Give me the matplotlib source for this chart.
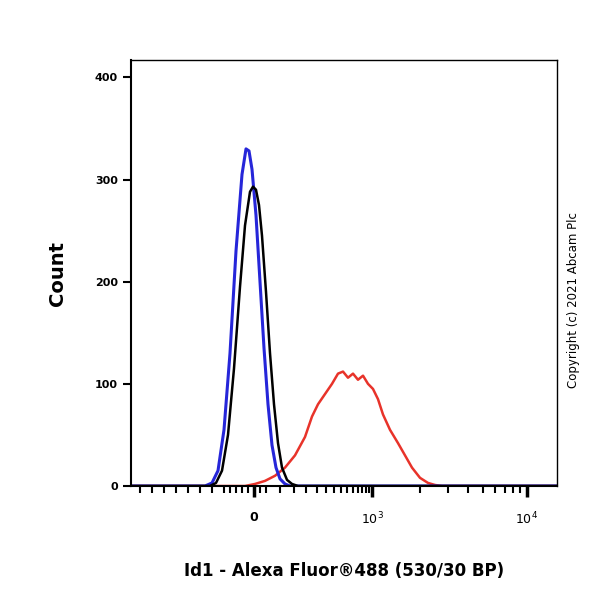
import matplotlib
matplotlib.use("Agg")
import matplotlib.pyplot as plt

# channel positions (display channel units) and counts
blue_x = [131, 205, 212, 218, 224, 230, 236, 242, 246, 249, 252, 256, 260, 264, 268, 272, 276, 280, 285, 290, 557]
blue_y = [0, 0, 3, 15, 55, 130, 230, 305, 330, 328, 310, 265, 200, 135, 80, 40, 18, 7, 2, 0, 0]
black_x = [131, 210, 216, 222, 228, 234, 240, 245, 250, 253, 256, 259, 262, 266, 270, 274, 278, 282, 287, 292, 298, 557]
black_y = [0, 0, 3, 15, 50, 115, 195, 255, 288, 293, 290, 275, 245, 190, 130, 80, 42, 18, 6, 2, 0, 0]
red_x = [131, 245, 255, 265, 275, 285, 295, 305, 312, 318, 325, 332, 338, 343, 348, 353, 358, 363, 368, 373, 378, 383, 390, 398, 405, 412, 420, 428, 435, 442, 557]
red_y = [0, 0, 2, 5, 10, 18, 30, 48, 68, 80, 90, 100, 110, 112, 106, 110, 104, 108, 100, 95, 85, 70, 55, 42, 30, 18, 8, 3, 1, 0, 0]

major_pos = [254, 372, 527]
major_lbl = ["0", "$10^3$", "$10^4$"]
minor_pos = [140, 152, 164, 176, 188, 200, 212, 224, 230, 236, 242, 248, 260, 266, 280, 294, 306, 317, 326, 334, 341, 347, 353, 358, 362, 366, 369,
             420, 448, 468, 483, 495, 505, 513, 520]

fig = plt.figure(figsize=(6, 6), dpi=100)
ax = fig.add_axes([131/600, (600-486)/600, 426/600, 426/600])
ax.plot(red_x, red_y, color="#e8332a", lw=1.8)
ax.plot(blue_x, blue_y, color="#2626d9", lw=2.2)
ax.plot(black_x, black_y, color="black", lw=1.8)
ax.set_xlim(131, 557)
ax.set_ylim(0, 417)
ax.set_xticks(major_pos)
ax.set_xticklabels(major_lbl, fontsize=9, fontweight="bold")
ax.set_xticks(minor_pos, minor=True)
ax.tick_params(axis="x", which="major", length=8, width=2.5, direction="out", pad=10)
ax.tick_params(axis="x", which="minor", length=5, width=1.5)
ax.set_yticks([0, 100, 200, 300, 400])
ax.set_yticklabels(["0", "100", "200", "300", "400"], fontsize=8, fontweight="bold")
ax.tick_params(axis="y", length=6, width=1.5)
for s in ax.spines.values():
    s.set_linewidth(1)
ax.spines["left"].set_linewidth(1.5)
ax.spines["bottom"].set_linewidth(1.5)
ax.set_ylabel("Count", fontsize=14, fontweight="bold", labelpad=20)
ax.set_xlabel("Id1 - Alexa Fluor\u00ae488 (530/30 BP)", fontsize=12, fontweight="bold", labelpad=25)
fig.text(0.955, 0.5, "Copyright (c) 2021 Abcam Plc", rotation=90, fontsize=8.5, va="center", ha="center")
fig.savefig("out.png", dpi=100)
